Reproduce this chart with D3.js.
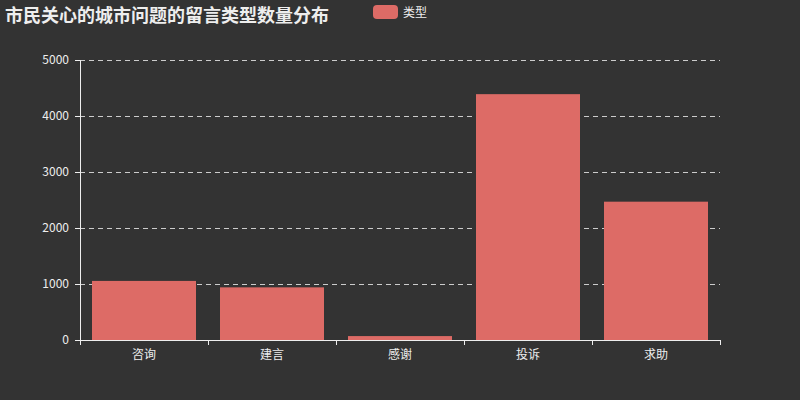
<!DOCTYPE html>
<html>
<head>
<meta charset="utf-8">
<script src="https://cdn.jsdelivr.net/npm/d3@7"></script>
<style>
  body { margin: 0; background: #333333; }
  svg { display: block; font-family: "Noto Sans CJK SC", "Microsoft YaHei", sans-serif; }
</style>
</head>
<body>
<svg id="chart" width="800" height="400"></svg>
<script>
// data
var categories = ["咨询", "建言", "感谢", "投诉", "求助"];
var counts = [1055, 940, 70, 4390, 2470];
var yTicks = [0, 1000, 2000, 3000, 4000, 5000];
var seriesName = "类型";
var titleText = "市民关心的城市问题的留言类型数量分布";

var barColor = "#dd6b66",
    axisColor = "#eeeeee";

var svg = d3.select("#chart");
var margin = {left: 80, right: 80, top: 60, bottom: 60};
var w = 800 - margin.left - margin.right,
    h = 400 - margin.top - margin.bottom;

svg.append("rect").attr("width", 800).attr("height", 400).attr("fill", "#333333");

var x = d3.scaleBand().domain(categories).range([0, w])
    .paddingInner(0.1875).paddingOuter(0.09375);
var xAxisScale = d3.scaleBand().domain(categories).range([0, w]);
var y = d3.scaleLinear().domain([0, 5000]).range([h, 0]);

var g = svg.append("g").attr("transform", "translate(" + margin.left + "," + margin.top + ")");

// dashed grid
g.append("g").selectAll("line").data(yTicks.filter(function (d) { return d > 0; }))
    .enter().append("line")
    .attr("x1", 0).attr("x2", w)
    .attr("y1", function (d) { return y(d) + 0.5; })
    .attr("y2", function (d) { return y(d) + 0.5; })
    .attr("stroke", "#cccccc").attr("stroke-dasharray", "5,4").attr("stroke-width", 1);

// bars
g.append("g").selectAll("rect").data(counts).enter().append("rect")
    .attr("x", function (d, i) { return x(categories[i]); })
    .attr("width", x.bandwidth())
    .attr("y", function (d) { return y(d); })
    .attr("height", function (d) { return h - y(d); })
    .attr("fill", barColor);

// y axis
var yAxis = g.append("g").call(d3.axisLeft(y).tickValues(yTicks).tickFormat(d3.format("d"))
    .tickSize(5).tickPadding(6));
// x axis, ticks at band boundaries
var xAxis = g.append("g").attr("transform", "translate(0," + h + ")")
    .call(d3.axisBottom(xAxisScale).tickSize(0).tickPadding(10));
g.append("g").attr("transform", "translate(0," + h + ")").selectAll("line")
    .data(d3.range(categories.length + 1)).enter().append("line")
    .attr("x1", function (i) { return xAxisScale.step() * i + 0.5; })
    .attr("x2", function (i) { return xAxisScale.step() * i + 0.5; })
    .attr("y1", 0).attr("y2", 5)
    .attr("stroke", axisColor);

[yAxis, xAxis].forEach(function (a) {
    a.select(".domain").attr("stroke", axisColor);
    a.selectAll(".tick line").attr("stroke", axisColor);
    a.selectAll("text").attr("fill", axisColor).attr("font-size", 12)
        .attr("font-family", "\"Noto Sans CJK SC\", sans-serif");
});

// title
svg.append("text").attr("x", 5).attr("y", 22)
    .attr("fill", axisColor).attr("font-size", 18).attr("font-weight", "bold")
    .text(titleText);

// legend
svg.append("rect").attr("x", 373).attr("y", 5).attr("width", 25).attr("height", 14)
    .attr("rx", 4).attr("fill", barColor);
svg.append("text").attr("x", 403).attr("y", 16.5)
    .attr("fill", axisColor).attr("font-size", 12).text(seriesName);
</script>
</body>
</html>
